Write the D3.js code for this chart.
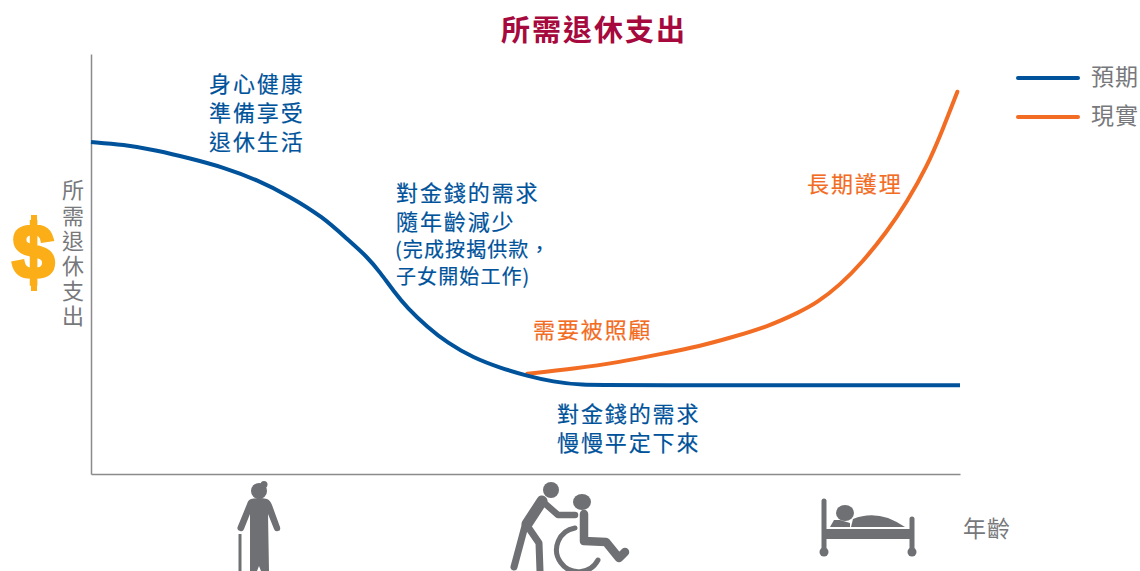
<!DOCTYPE html>
<html>
<head>
<meta charset="utf-8">
<script src="https://cdn.jsdelivr.net/npm/d3@7.9.0/dist/d3.min.js"></script>
<style>
  html, body { margin: 0; padding: 0; background: #fff; overflow: hidden; }
  text { font-family: "Noto Sans CJK TC", "Noto Sans", sans-serif; }
</style>
</head>
<body>
<svg id="chart" width="1140" height="571"></svg>
<script>
// age position (0-100) and spending level (0-100)
const expectedAge = [0, 3.7, 7.6, 11.4, 15.2, 19.1, 22.9, 26.7, 29.6, 31.8, 33.3, 34.8, 36.4, 38.7, 41, 44, 47.1, 50.2, 53.2, 56.3, 60.9, 100];
const expectedSpend = [79.2, 78.6, 77.2, 75.3, 73.2, 70.2, 66.2, 61.3, 55.8, 51.8, 48, 43.7, 39.6, 35.1, 31.3, 27.7, 25.3, 23.4, 22, 21.2, 21.2, 21.2];
const actualAge = [50.2, 55.5, 60.9, 65.5, 70.1, 73.9, 77.8, 81.6, 83.5, 86.2, 88.8, 91.6, 93.9, 96.2, 98, 99.7];
const actualSpend = [23.9, 25.1, 26.7, 28.6, 30.5, 32.7, 35.1, 38.7, 40.8, 45.1, 50.6, 57.8, 64.9, 73.3, 82.1, 91.2];
const legendNames = ['預期', '現實'];
const blue = '#00539b';
const orange = '#f26c23';
const gray = '#77787b';

const svg = d3.select('#chart');
const x = d3.scaleLinear().domain([0, 100]).range([91, 960]);
const y = d3.scaleLinear().domain([0, 100.2]).range([474, 54]);

svg.append('g').attr('transform', 'translate(91,0)').call(d3.axisLeft(y).ticks(0).tickSize(0));
svg.append('g').attr('transform', 'translate(0,474)').call(d3.axisBottom(x).ticks(0).tickSize(0));
svg.selectAll('.domain').attr('stroke', '#8a8b8d').attr('stroke-width', 1.5);

const line = d3.line().x(d => x(d[0])).y(d => y(d[1])).curve(d3.curveBasis);
svg.append('path').datum(d3.zip(actualAge, actualSpend)).attr('d', line)
   .attr('fill', 'none').attr('stroke', orange).attr('stroke-width', 4).attr('stroke-linecap', 'round');
svg.append('path').datum(d3.zip(expectedAge, expectedSpend)).attr('d', line)
   .attr('fill', 'none').attr('stroke', blue).attr('stroke-width', 4);

function label(str, px, py, size, color, spacing, thick) {
    return svg.append('text').attr('x', px).attr('y', py).text(str)
       .attr('font-size', size).attr('fill', color)
       .attr('stroke', color).attr('stroke-width', thick === undefined ? 0.2 : thick)
       .attr('letter-spacing', spacing === undefined ? 1.9 : spacing);
}

label('所需退休支出', 501, 41, 29, '#a6093d', 2, 0).attr('font-weight', 700);

label('身心健康', 209, 92, 22, blue);
label('準備享受', 209, 121, 22, blue);
label('退休生活', 209, 150, 22, blue);

label('對金錢的需求', 396, 200.5, 22, blue);
label('隨年齡減少', 396, 229.5, 22, blue);
label('(完成按揭供款，', 395, 256.5, 20, blue, 1.1);
label('子女開始工作)', 396, 283.5, 20, blue, 1.1);

label('對金錢的需求', 557, 422, 22, blue);
label('慢慢平定下來', 557, 451, 22, blue);

label('需要被照顧', 533, 338, 22, orange);
label('長期護理', 807, 192, 22, orange);

// legend
[blue, orange].forEach((c, i) => {
    const ly = 78 + i * 39;
    svg.append('line').attr('x1', 1018).attr('x2', 1078).attr('y1', ly).attr('y2', ly)
       .attr('stroke', c).attr('stroke-width', 4).attr('stroke-linecap', 'round');
    label(legendNames[i], 1091, ly + 7, 23, gray, 1, 0);
});

// y axis title
label('所需退休支出', 73, 179, 22, gray, 3.2, 0).style('writing-mode', 'vertical-rl');
label('年齡', 963, 537, 23, gray, 1, 0);

// dollar sign, thickened with a stroke, stems stick out past the glyph
const dollar = '#fbae17';
svg.append('text').attr('x', 33.5).attr('y', 278).attr('text-anchor', 'middle').text('$')
   .style('font-family', '"Liberation Sans"').attr('font-weight', 700)
   .attr('font-size', 76).attr('fill', dollar)
   .attr('stroke', dollar).attr('stroke-width', 3.5);
svg.append('rect').attr('x', 31).attr('y', 215).attr('width', 6).attr('height', 12).attr('fill', dollar);
svg.append('rect').attr('x', 31).attr('y', 279).attr('width', 6).attr('height', 12).attr('fill', dollar);

// icons
const iconColor = '#6f7073';
const icons = svg.append('g').attr('fill', iconColor);
function stroke(d, w) {
    icons.append('path').attr('d', d).attr('fill', 'none').attr('stroke', iconColor)
         .attr('stroke-width', w).attr('stroke-linecap', 'round').attr('stroke-linejoin', 'round');
}

// elder with cane
icons.append('circle').attr('cx', 259).attr('cy', 491).attr('r', 8);
icons.append('circle').attr('cx', 264).attr('cy', 484.5).attr('r', 3.5);
icons.append('path').attr('d', 'M251 499 Q259 497 267 499 Q270 500 272 505 L280 527 Q281 531 278 531 Q275 532 274 529 L268 514 L269 571 L261 571 L259 566 L257 571 L250 571 L250 514 L244 529 Q243 532 240 531 Q236 530 238 526 L247 504 Q248 500 251 499 Z');
icons.append('rect').attr('x', 238.5).attr('y', 534).attr('width', 3).attr('height', 37);

// carer and wheelchair
icons.append('circle').attr('cx', 551).attr('cy', 490).attr('r', 8);
stroke('M542 501 L527 524', 11);
stroke('M542 501 L558 515 L575 515', 6.5);
stroke('M525 526 L514 567', 7);
stroke('M528 527 L539 543 L540 571', 7);
icons.append('ellipse').attr('cx', 582).attr('cy', 502).attr('rx', 9).attr('ry', 8);
stroke('M584 514 L584 541 L606 542 L619 558 L625 552', 8.5);
stroke('M575 528 A22 22 0 1 0 598 560', 5);

// bed
icons.append('ellipse').attr('cx', 845).attr('cy', 513).attr('rx', 9).attr('ry', 8);
icons.append('path').attr('d', 'M830 527 L834 520 L840 520 L850 523 L850 527 Z');
icons.append('path').attr('d', 'M851 527 L853 519 Q870 512 888 518 Q898 522 905 527 Z');
icons.append('rect').attr('x', 824).attr('y', 529).attr('width', 88).attr('height', 10);
stroke('M824 501 L824 550', 5);
stroke('M912 519 L912 550', 5);
icons.append('circle').attr('cx', 824).attr('cy', 552).attr('r', 4.5);
icons.append('circle').attr('cx', 912).attr('cy', 552).attr('r', 4.5);
</script>
</body>
</html>
